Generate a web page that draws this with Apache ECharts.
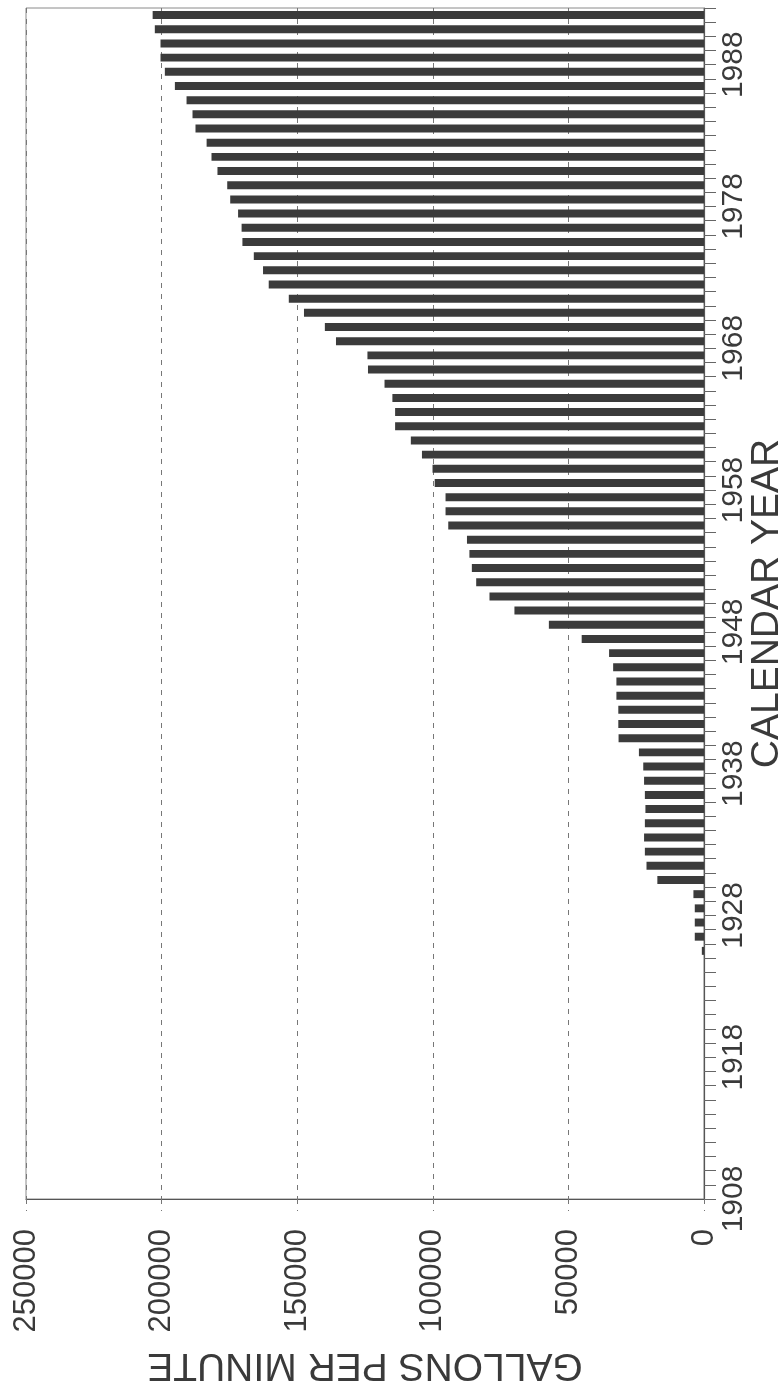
<!DOCTYPE html>
<html>
<head>
<meta charset="utf-8">
<title>Gallons per minute by calendar year</title>
<script src="https://cdn.jsdelivr.net/npm/echarts@6/dist/echarts.min.js"></script>
<style>
  html, body { margin: 0; padding: 0; background: #ffffff; }
  #chart { width: 783px; height: 1391px; }
</style>
</head>
<body>
<div id="chart"></div>
<script>
// Calendar years shown on the year axis (one band per year, 1908 through 1991)
const years = [];
for (let y = 1908; y <= 1991; y++) years.push(String(y));

// Pumping rate for each year, gallons per minute
const gallonsPerMinute = [
  0, 0, 0, 0, 0, 0, 0, 0, 0, 0,                 // 1908-1917
  0, 0, 0, 0, 0, 0, 0, 800, 3400, 3400,         // 1918-1927
  3400, 3900, 17200, 21200, 21800, 22100, 21800, 21600, 21800, 22100, // 1928-1937
  22400, 24000, 31500, 31600, 31600, 32300, 32300, 33500, 35000, 45100, // 1938-1947
  57200, 69900, 79100, 84000, 85600, 86500, 87400, 94300, 95300, 95300, // 1948-1957
  99300, 100100, 104000, 108100, 113900, 113900, 114900, 117800, 123900, 124100, // 1958-1967
  135700, 139800, 147500, 153100, 160500, 162600, 166000, 170200, 170500, 171800, // 1968-1977
  174700, 175800, 179400, 181600, 183400, 187500, 188600, 190800, 195100, 198800, // 1978-1987
  200400, 200400, 202500, 203300                // 1988-1991
];

// Labelled ticks
const yearTickLabels = [1908, 1918, 1928, 1938, 1948, 1958, 1968, 1978, 1988];
const flowTickLabels = [0, 50000, 100000, 150000, 200000, 250000];

const ink = '#3a3a3a';
const font = '"Liberation Sans", Arial, Helvetica, sans-serif';

const chart = echarts.init(document.getElementById('chart'), null, { renderer: 'canvas' });

chart.setOption({
  animation: false,
  backgroundColor: '#ffffff',
  textStyle: { fontFamily: font, color: ink },
  grid: {
    left: 26, top: 8, width: 678, height: 1191,
    outerBoundsMode: 'none',
    containLabel: false,
    show: true, borderColor: '#8a8a8a', borderWidth: 1,
    backgroundColor: 'transparent'
  },
  xAxis: {
    type: 'value',
    inverse: true,
    position: 'bottom',
    min: flowTickLabels[0],
    max: flowTickLabels[flowTickLabels.length - 1],
    interval: 50000,
    axisLine: { show: true, lineStyle: { color: '#555555', width: 1.2 } },
    axisTick: { show: true, length: 12, lineStyle: { color: '#777777', type: [5, 6] } },
    splitLine: { show: true, lineStyle: { color: '#777777', type: [5, 6], width: 1 } },
    axisLabel: {
      rotate: 90, margin: 30, fontSize: 31, color: ink, fontFamily: font,
      formatter: v => flowTickLabels.includes(v) ? String(v) : ''
    },
    name: 'GALLONS PER MINUTE',
    nameLocation: 'middle',
    nameRotate: 180,
    nameGap: 146,
    nameMoveOverlap: false,
    nameTextStyle: { fontSize: 39, color: ink, fontFamily: font }
  },
  yAxis: [
    {
      // band axis carrying the bars, one band per year
      type: 'category',
      data: years,
      position: 'right',
      boundaryGap: true,
      axisLine: { show: false },
      axisTick: { show: false },
      axisLabel: { show: false },
      splitLine: { show: false }
    },
    {
      // year scale with a tick at every year boundary
      type: 'value',
      position: 'right',
      min: 1908,
      max: 1992,
      interval: 1,
      axisLine: { show: true, lineStyle: { color: '#555555', width: 1.2 } },
      axisTick: { show: true, length: 12, lineStyle: { color: '#666666', width: 1 } },
      splitLine: { show: false },
      axisLabel: {
        rotate: 90, margin: 15, fontSize: 30, color: ink, fontFamily: font,
        formatter: v => yearTickLabels.includes(v) ? String(v) : ''
      },
      name: 'CALENDAR YEAR',
      nameLocation: 'middle',
      nameRotate: 90,
      nameGap: 44,
      nameMoveOverlap: false,
      nameTextStyle: { fontSize: 39, color: ink, fontFamily: font }
    }
  ],
  series: [{
    type: 'bar',
    yAxisIndex: 0,
    data: gallonsPerMinute,
    barWidth: '56%',
    itemStyle: { color: '#3b3b3b' },
    silent: true
  }]
});
</script>
</body>
</html>
